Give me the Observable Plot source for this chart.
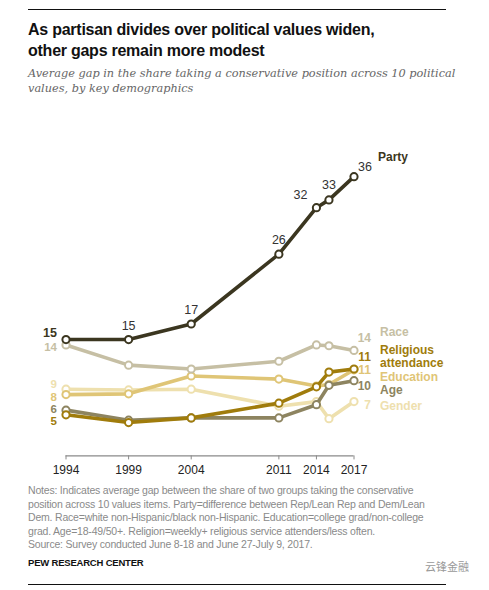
<!DOCTYPE html>
<html>
<head>
<meta charset="utf-8">
<script src="https://cdn.jsdelivr.net/npm/d3@7"></script>
<script src="https://cdn.jsdelivr.net/npm/@observablehq/plot@0.6"></script>
<style>
  html, body { margin: 0; padding: 0; background: #fff; }
  #wrap { position: relative; width: 489px; height: 590px; overflow: hidden; font-family: "Liberation Sans", Arial, sans-serif; }
  .rule { position: absolute; left: 28px; width: 418px; height: 1px; background: #111; }
  #title { position: absolute; left: 28px; top: 19px; font-size: 16px; font-weight: bold; line-height: 21px; color: #111; white-space: nowrap; letter-spacing: -0.25px; }
  #subtitle { position: absolute; left: 28px; top: 66px; font-family: "DejaVu Serif", "Liberation Serif", serif; font-style: italic; font-size: 11.3px; line-height: 15px; color: #666; white-space: nowrap; }
  #chart { position: absolute; left: 0; top: 100px; }
  #notes { position: absolute; left: 28px; top: 484px; font-size: 10.5px; line-height: 13.6px; color: #8a8a8a; white-space: nowrap; letter-spacing: -0.2px; }
  #pew { position: absolute; left: 28px; top: 557px; font-size: 9.5px; font-weight: bold; color: #111; letter-spacing: -0.2px; }
  #wm { position: absolute; left: 425px; top: 558px; font-family: "Noto Sans CJK SC", sans-serif; font-size: 11px; color: #999; }
</style>
</head>
<body>
<div id="wrap">
  <div class="rule" style="top:9px"></div>
  <div id="title">As partisan divides over political values widen,<br>other gaps remain more modest</div>
  <div id="subtitle">Average gap in the share taking a conservative position across 10 political<br>values, by key demographics</div>
  <div id="chart"></div>
  <div id="notes">Notes: Indicates average gap between the share of two groups taking the conservative<br>position across 10 values items. Party=difference between Rep/Lean Rep and Dem/Lean<br>Dem. Race=white non-Hispanic/black non-Hispanic. Education=college grad/non-college<br>grad. Age=18-49/50+. Religion=weekly+ religious service attenders/less often.<br>Source: Survey conducted June 8-18 and June 27-July 9, 2017.</div>
  <div id="pew">PEW RESEARCH CENTER</div>
  <div id="wm">云锋金融</div>
  <div class="rule" style="top:584px"></div>
</div>
<script>
// ---- Data ----
const years = [1994, 1999, 2004, 2011, 2014, 2015, 2017];
const tickYears = [1994, 1999, 2004, 2011, 2014, 2017];
const party     = [15, 15, 17, 26, 32, 33, 36];
const race      = [14.3, 11.7, 11.2, 12.2, 14.3, 14.2, 13.6];
const religion  = [5.3, 4.3, 4.9, 6.8, 8.9, 10.8, 11.2];
const education = [7.9, 8.0, 10.3, 9.9, 9.0, 9.2, 11.1];
const gender    = [8.6, 8.5, 8.6, 6.4, 7.0, 4.8, 7.0];
const age       = [5.9, 4.6, 4.9, 4.9, 6.6, 9.1, 9.7];

const seriesNames = ["Gender", "Education", "Race", "Age", "Religious attendance", "Party"];
const seriesValues = {
  "Gender": gender, "Education": education, "Race": race,
  "Age": age, "Religious attendance": religion, "Party": party
};

// ---- Styles ----
const colors = {
  "Party": "#3b3620", "Race": "#c6bfa4", "Religious attendance": "#a07c0c",
  "Education": "#dfc576", "Gender": "#eee0ae", "Age": "#8d8460"
};
// label offsets (pixels): left value, right value, right name
const leftDy  = {"Party": -7, "Race": 2, "Gender": -5, "Education": 2.5, "Age": -0.5, "Religious attendance": 7};
const rightDy = {"Race": -12, "Religious attendance": -12, "Education": 0, "Age": 6, "Gender": 4};
const nameDy  = {"Race": -19, "Religious attendance": -13, "Education": 7, "Age": 9, "Gender": 4};
const nameText = {"Race": "Race", "Religious attendance": "Religious\nattendance", "Education": "Education", "Age": "Age", "Gender": "Gender"};
const partyLabelOffsets = [null, [0, -14], [0, -14], [0, -14], [-16, -13], [0, -15], [11, -10]];

const rowsOf = name => years.map((year, i) => ({series: name, year, value: seriesValues[name][i]}))
  .filter(d => d.value != null);

const marks = [];
marks.push(Plot.ruleY([0], {stroke: "#8a8a8a", strokeWidth: 1.3}));
marks.push(Plot.axisX({ticks: tickYears, tickFormat: d => String(d), tickSize: 4, tickPadding: 6,
  stroke: "#8a8a8a", fill: "#222", fontSize: 12, label: null}));

for (const name of seriesNames) {
  const rows = rowsOf(name);
  const c = colors[name];
  marks.push(Plot.line(rows, {x: "year", y: "value", stroke: c, strokeWidth: 3.6, strokeLinejoin: "round"}));
  marks.push(Plot.dot(rows, {x: "year", y: "value", r: 3.6, fill: "white", stroke: c, strokeWidth: 2}));
  // left value label
  marks.push(Plot.text([rows[0]], {x: "year", y: "value", text: d => String(Math.round(d.value)),
    textAnchor: "end", dx: -9, dy: leftDy[name], fill: name === "Party" ? "#3b3620" : c,
    fontWeight: "bold", fontSize: name === "Party" ? 12.5 : 11.5}));
  if (name !== "Party") {
    const last = rows[rows.length - 1];
    marks.push(Plot.text([last], {x: "year", y: "value", text: d => String(Math.round(d.value)),
      textAnchor: "end", dx: 17, dy: rightDy[name], fill: c, fontWeight: "bold", fontSize: 12}));
    marks.push(Plot.text([last], {x: "year", y: "value", text: () => nameText[name],
      textAnchor: "start", dx: 26, dy: nameDy[name], fill: c, fontWeight: "bold", fontSize: 12, lineHeight: 1.15}));
  }
}
// party value labels
rowsOf("Party").forEach((d, i) => {
  const off = partyLabelOffsets[i];
  if (!off) return;
  marks.push(Plot.text([d], {x: "year", y: "value", text: r => String(r.value), dx: off[0], dy: off[1],
    fill: "#333", fontSize: 12.5}));
});
const lastParty = rowsOf("Party").slice(-1);
marks.push(Plot.text(lastParty, {x: "year", y: "value", text: () => "Party", textAnchor: "start",
  dx: 24, dy: -19, fill: "#3b3620", fontWeight: "bold", fontSize: 12}));

const chart = Plot.plot({
  width: 489,
  height: 380,
  marginLeft: 65.5,
  marginRight: 135.5,
  marginTop: 45.1,
  marginBottom: 24.6,
  x: {domain: [1994, 2017], axis: null},
  y: {domain: [0, 40], axis: null},
  style: {fontFamily: "'Liberation Sans', Arial, sans-serif", fontSize: "12px", color: "#222", background: "transparent", overflow: "visible"},
  marks
});
document.getElementById("chart").appendChild(chart);
</script>
</body>
</html>
